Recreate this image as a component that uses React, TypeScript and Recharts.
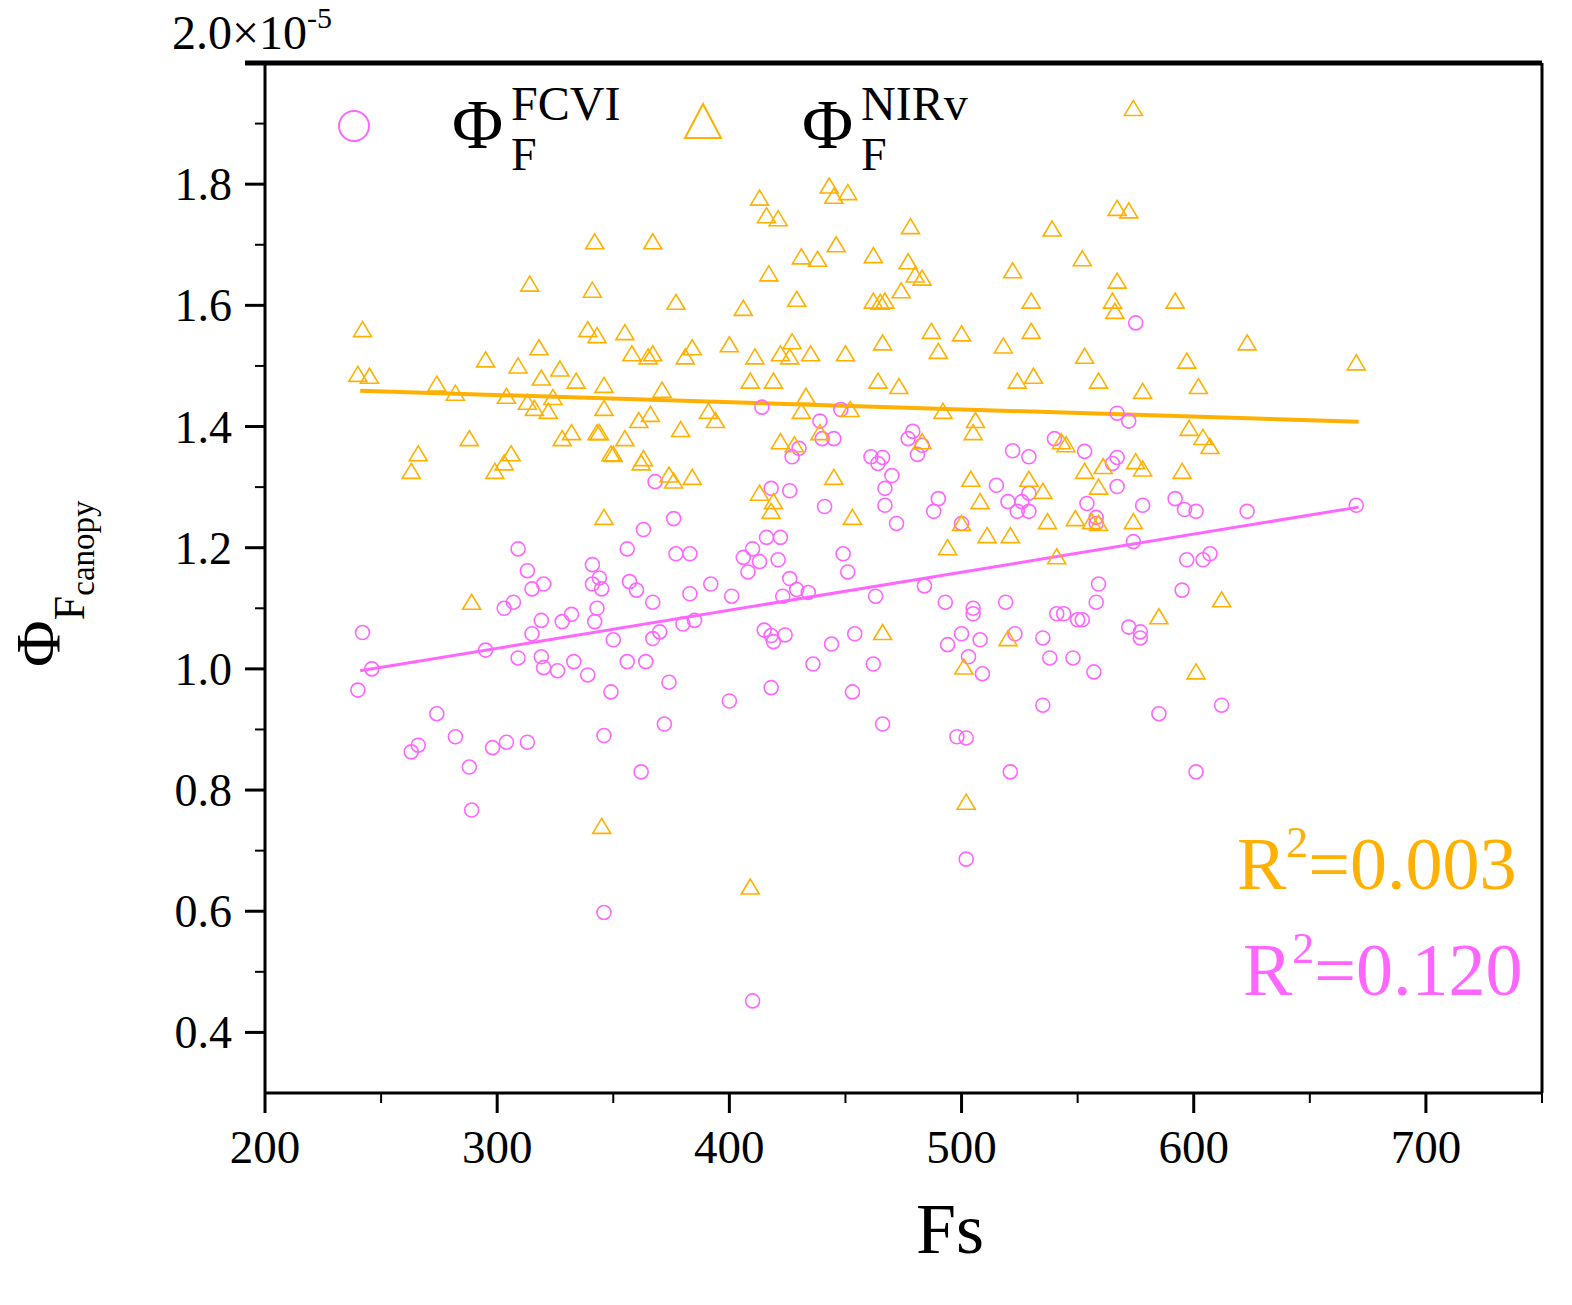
import React from 'react'
import { ScatterChart, Scatter, XAxis, YAxis, ReferenceLine, Legend } from 'recharts'

const PINK = '#ff66ff'
const ORANGE = '#ffb000'
const FONT = '"Liberation Serif", "Times New Roman", serif'

// Φ_F^FCVI points (Fs, value ×1e-5)
const fsFcvi = [
  240, 242, 246, 263, 266, 274, 282, 288, 289, 295, 298, 303, 304, 307, 309, 309, 313, 313, 315, 315,
  319, 319, 320, 320, 326, 328, 332, 333, 339, 341, 341, 344, 343, 342, 345, 346, 346, 349, 350, 356,
  356, 357, 360, 363, 362, 364, 367, 368, 367, 370, 372, 374, 376, 377, 380, 383, 383, 385, 392, 400,
  401, 406, 408, 410, 410, 413, 414, 415, 416, 418, 418, 418, 419, 421, 422, 423, 424, 426, 426, 427,
  429, 430, 434, 436, 439, 440, 441, 444, 445, 448, 449, 451, 453, 454, 463, 461, 462, 464, 466, 466,
  467, 467, 470, 472, 477, 479, 481, 483, 484, 488, 490, 493, 494, 498, 502, 500, 500, 502, 503, 505,
  505, 509, 508, 515, 519, 521, 520, 522, 523, 524, 526, 529, 529, 529, 535, 535, 538, 540, 541, 544,
  548, 550, 552, 553, 554, 557, 558, 558, 559, 558, 565, 567, 567, 567, 572, 572, 574, 575, 577, 577,
  578, 585, 592, 595, 596, 597, 601, 601, 604, 607, 612, 623, 670,
]
const phiFcvi = [
  0.965, 1.06, 1.0, 0.863, 0.874, 0.926, 0.888, 0.838, 0.767, 1.031, 0.87, 1.1, 0.879, 1.11, 1.198, 1.018, 0.879, 1.162, 1.132, 1.058,
  1.08, 1.02, 1.14, 1.002, 0.997, 1.078, 1.09, 1.012, 0.99, 1.172, 1.14, 1.15, 1.1, 1.078, 1.132, 0.89, 0.598, 0.962, 1.048, 1.198,
  1.012, 1.144, 1.13, 1.23, 0.83, 1.012, 1.05, 1.309, 1.11, 1.061, 0.909, 0.978, 1.248, 1.19, 1.074, 1.19, 1.124, 1.08, 1.14, 0.947,
  1.12, 1.184, 1.16, 1.198, 0.452, 1.177, 1.432, 1.064, 1.217, 1.055, 0.969, 1.298, 1.045, 1.18, 1.217, 1.12, 1.056, 1.294, 1.149, 1.35,
  1.131, 1.364, 1.126, 1.008, 1.409, 1.38, 1.268, 1.041, 1.38, 1.428, 1.19, 1.16, 0.962, 1.058, 1.12, 1.35, 1.008, 1.339, 1.349, 0.909,
  1.27, 1.298, 1.319, 1.24, 1.38, 1.392, 1.354, 1.369, 1.137, 1.26, 1.281, 1.11, 1.04, 0.888, 0.886, 1.058, 1.24, 0.686, 1.02, 1.1,
  1.091, 0.992, 1.048, 1.303, 1.11, 0.83, 1.276, 1.36, 1.058, 1.26, 1.276, 1.26, 1.35, 1.29, 0.94, 1.051, 1.018, 1.38, 1.091, 1.091,
  1.018, 1.081, 1.081, 1.359, 1.273, 0.995, 1.24, 1.11, 1.14, 1.25, 1.339, 1.349, 1.301, 1.422, 1.409, 1.069, 1.21, 1.571, 1.061, 1.051,
  1.27, 0.926, 1.281, 1.13, 1.263, 1.18, 0.83, 1.26, 1.18, 1.19, 0.94, 1.26, 1.27,
]

// Φ_F^NIRv points
const fsNirv = [
  242, 240, 245, 263, 266, 274, 282, 288, 289, 295, 299, 303, 306, 304, 309, 314, 313, 316, 318, 319,
  322, 324, 327, 328, 332, 334, 339, 342, 341, 343, 343, 346, 346, 346, 345, 349, 355, 355, 358, 361,
  362, 365, 367, 367, 366, 371, 374, 377, 379, 381, 384, 384, 391, 400, 406, 409, 411, 409, 413, 413,
  416, 417, 419, 419, 421, 422, 422, 426, 427, 429, 431, 435, 431, 433, 438, 439, 443, 446, 445, 445,
  451, 450, 452, 453, 462, 462, 464, 465, 467, 466, 466, 473, 474, 477, 478, 480, 483, 483, 487, 490,
  492, 494, 500, 500, 501, 502, 504, 505, 506, 518, 520, 522, 524, 529, 531, 530, 530, 535, 537, 539,
  541, 543, 545, 552, 553, 553, 556, 559, 559, 561, 565, 567, 567, 566, 572, 574, 574, 575, 578, 585,
  592, 595, 597, 598, 601, 602, 604, 607, 612, 623, 670, 428, 578, 559, 549, 521, 508, 418, 344, 350,
  363, 376, 394, 511,
]
const phiNirv = [
  1.56, 1.486, 1.483, 1.326, 1.355, 1.47, 1.455, 1.38, 1.11, 1.51, 1.326, 1.34, 1.355, 1.45, 1.5, 1.635, 1.44, 1.43, 1.53, 1.48,
  1.425, 1.448, 1.495, 1.38, 1.39, 1.475, 1.56, 1.705, 1.625, 1.55, 1.39, 1.25, 1.468, 1.43, 0.74, 1.355, 1.555, 1.38, 1.52, 1.41,
  1.34, 1.515, 1.705, 1.52, 1.42, 1.46, 1.32, 1.605, 1.395, 1.515, 1.53, 1.316, 1.425, 1.535, 1.595, 1.475, 1.515, 0.64, 1.777, 1.29,
  1.748, 1.652, 1.475, 1.276, 1.743, 1.52, 1.375, 1.515, 1.54, 1.61, 1.68, 1.52, 1.425, 1.45, 1.676, 1.39, 1.797, 1.7, 1.78, 1.316,
  1.786, 1.52, 1.428, 1.25, 1.682, 1.607, 1.475, 1.605, 1.607, 1.538, 1.06, 1.466, 1.624, 1.672, 1.73, 1.65, 1.645, 1.375, 1.557, 1.524,
  1.425, 1.2, 1.553, 1.24, 1.003, 0.78, 1.313, 1.39, 1.41, 1.533, 1.05, 1.657, 1.475, 1.313, 1.483, 1.607, 1.557, 1.293, 1.243, 1.726,
  1.185, 1.375, 1.37, 1.677, 1.516, 1.326, 1.243, 1.475, 1.24, 1.334, 1.607, 1.64, 1.76, 1.59, 1.756, 1.243, 1.925, 1.342, 1.458, 1.086,
  1.607, 1.326, 1.508, 1.397, 0.995, 1.466, 1.382, 1.367, 1.114, 1.538, 1.505, 1.37, 1.33, 1.3, 1.248, 1.22, 1.276, 1.26, 1.39, 1.354,
  1.347, 1.31, 1.41, 1.22,
]

// linear fits
const fitFs = [241, 671]
const fitFcvi = [0.997, 1.267]
const fitNirv = [1.459, 1.408]

const xTicks = [200, 250, 300, 350, 400, 450, 500, 550, 600, 650, 700, 750]
const yTicks = [0.4, 0.5, 0.6, 0.7, 0.8, 0.9, 1.0, 1.1, 1.2, 1.3, 1.4, 1.5, 1.6, 1.7, 1.8, 1.9, 2.0]

const fcviData = fsFcvi.map((x, i) => ({ x, y: phiFcvi[i] }))
const nirvData = fsNirv.map((x, i) => ({ x, y: phiNirv[i] }))

function CircleShape(props: any) {
  const { cx, cy } = props
  return <circle cx={cx} cy={cy} r={7} fill="none" stroke={PINK} strokeWidth={1.6} />
}

function TriangleShape(props: any) {
  const { cx, cy } = props
  return (
    <polygon
      points={`${cx},${cy - 8} ${cx - 9},${cy + 7} ${cx + 9},${cy + 7}`}
      fill="none"
      stroke={ORANGE}
      strokeWidth={1.6}
    />
  )
}

function XTick(props: any) {
  const { x, y, payload } = props
  const v = payload.value
  const major = v % 100 === 0
  const axisY = y - 20
  return (
    <g>
      <line x1={x} x2={x} y1={axisY} y2={axisY + (major ? 20 : 10)} stroke="#000" strokeWidth={major ? 3 : 2} />
      {major && (
        <text x={x} y={axisY + 70} textAnchor="middle" fontSize={47} fontFamily={FONT} fill="#000">
          {v}
        </text>
      )}
    </g>
  )
}

function YTick(props: any) {
  const { x, y, payload } = props
  const v = payload.value
  const axisX = x + 28
  const tenth = Math.round(v * 10)
  if (tenth === 20) {
    return (
      <g>
        <line x1={axisX - 20} x2={axisX} y1={y} y2={y} stroke="#000" strokeWidth={5} />
        <text x={axisX - 93} y={y - 14} fontSize={48} fontFamily={FONT} fill="#000">
          2.0×10<tspan fontSize={30} dy={-21}>-5</tspan>
        </text>
      </g>
    )
  }
  const major = tenth % 2 === 0
  return (
    <g>
      <line x1={axisX - (major ? 20 : 10)} x2={axisX} y1={y} y2={y} stroke="#000" strokeWidth={major ? 3 : 2} />
      {major && (
        <text x={axisX - 33} y={y + 16} textAnchor="end" fontSize={46} fontFamily={FONT} fill="#000">
          {v.toFixed(1)}
        </text>
      )}
    </g>
  )
}

function LegendContent() {
  return (
    <svg width={700} height={140} style={{ display: 'block', fontFamily: FONT }}>
      <circle cx={24} cy={66} r={15} fill="none" stroke={PINK} strokeWidth={2} />
      <text x={122} y={88} fontSize={70} fill="#000">Φ</text>
      <text x={181} y={60} fontSize={48} fill="#000">FCVI</text>
      <text x={181} y={110} fontSize={46} fill="#000">F</text>
      <polygon points="373,44 355,78 391,78" fill="none" stroke={ORANGE} strokeWidth={2} />
      <text x={472} y={88} fontSize={70} fill="#000">Φ</text>
      <text x={531} y={60} fontSize={48} fill="#000">NIRv</text>
      <text x={531} y={110} fontSize={46} fill="#000">F</text>
    </svg>
  )
}

export default function App() {
  return (
    <div style={{ position: 'relative', width: 1572, height: 1300, margin: -8, background: '#fff' }}>
      <ScatterChart width={1572} height={1300} margin={{ top: 63, right: 30, bottom: 57, left: 115 }}>
        <XAxis
          type="number"
          dataKey="x"
          domain={[200, 750]}
          ticks={xTicks}
          interval={0}
          allowDataOverflow
          height={150}
          tickSize={20}
          tickMargin={0}
          tickLine={false}
          tick={<XTick />}
          axisLine={{ stroke: '#000', strokeWidth: 3 }}
        />
        <YAxis
          type="number"
          dataKey="y"
          domain={[0.3, 2.0]}
          ticks={yTicks}
          interval={0}
          allowDataOverflow
          width={150}
          tickSize={20}
          tickMargin={8}
          tickLine={false}
          tick={<YTick />}
          axisLine={{ stroke: '#000', strokeWidth: 3 }}
        />
        <ReferenceLine y={2.0} stroke="#000" strokeWidth={5} />
        <ReferenceLine x={750} stroke="#000" strokeWidth={3} />
        <Scatter name="FCVI" data={fcviData} shape={CircleShape} isAnimationActive={false} />
        <Scatter name="NIRv" data={nirvData} shape={TriangleShape} isAnimationActive={false} />
        <ReferenceLine
          segment={[{ x: fitFs[0], y: fitNirv[0] }, { x: fitFs[1], y: fitNirv[1] }]}
          stroke={ORANGE}
          strokeWidth={4}
        />
        <ReferenceLine
          segment={[{ x: fitFs[0], y: fitFcvi[0] }, { x: fitFs[1], y: fitFcvi[1] }]}
          stroke={PINK}
          strokeWidth={3}
        />
        <Legend
          layout="horizontal"
          verticalAlign="middle"
          align="center"
          content={<LegendContent />}
          wrapperStyle={{ left: 330, top: 60, width: 700, height: 140 }}
        />
      </ScatterChart>
      <svg
        width={1572}
        height={1300}
        style={{ position: 'absolute', left: 0, top: 0, pointerEvents: 'none', fontFamily: FONT }}
      >
        <text transform="translate(60, 667) rotate(-90)" fill="#000">
          <tspan fontSize={64}>Φ</tspan>
          <tspan fontSize={44} dy={24}>F</tspan>
          <tspan fontSize={33} dy={10}>canopy</tspan>
        </text>
        <text x={950} y={1253} textAnchor="middle" fontSize={72} fill="#000">Fs</text>
        <text x={1237} y={889} fontSize={74} fill={ORANGE}>
          R<tspan fontSize={44} dy={-32}>2</tspan><tspan dy={32}>=0.003</tspan>
        </text>
        <text x={1243} y={995} fontSize={74} fill={PINK}>
          R<tspan fontSize={44} dy={-32}>2</tspan><tspan dy={32}>=0.120</tspan>
        </text>
      </svg>
    </div>
  )
}
